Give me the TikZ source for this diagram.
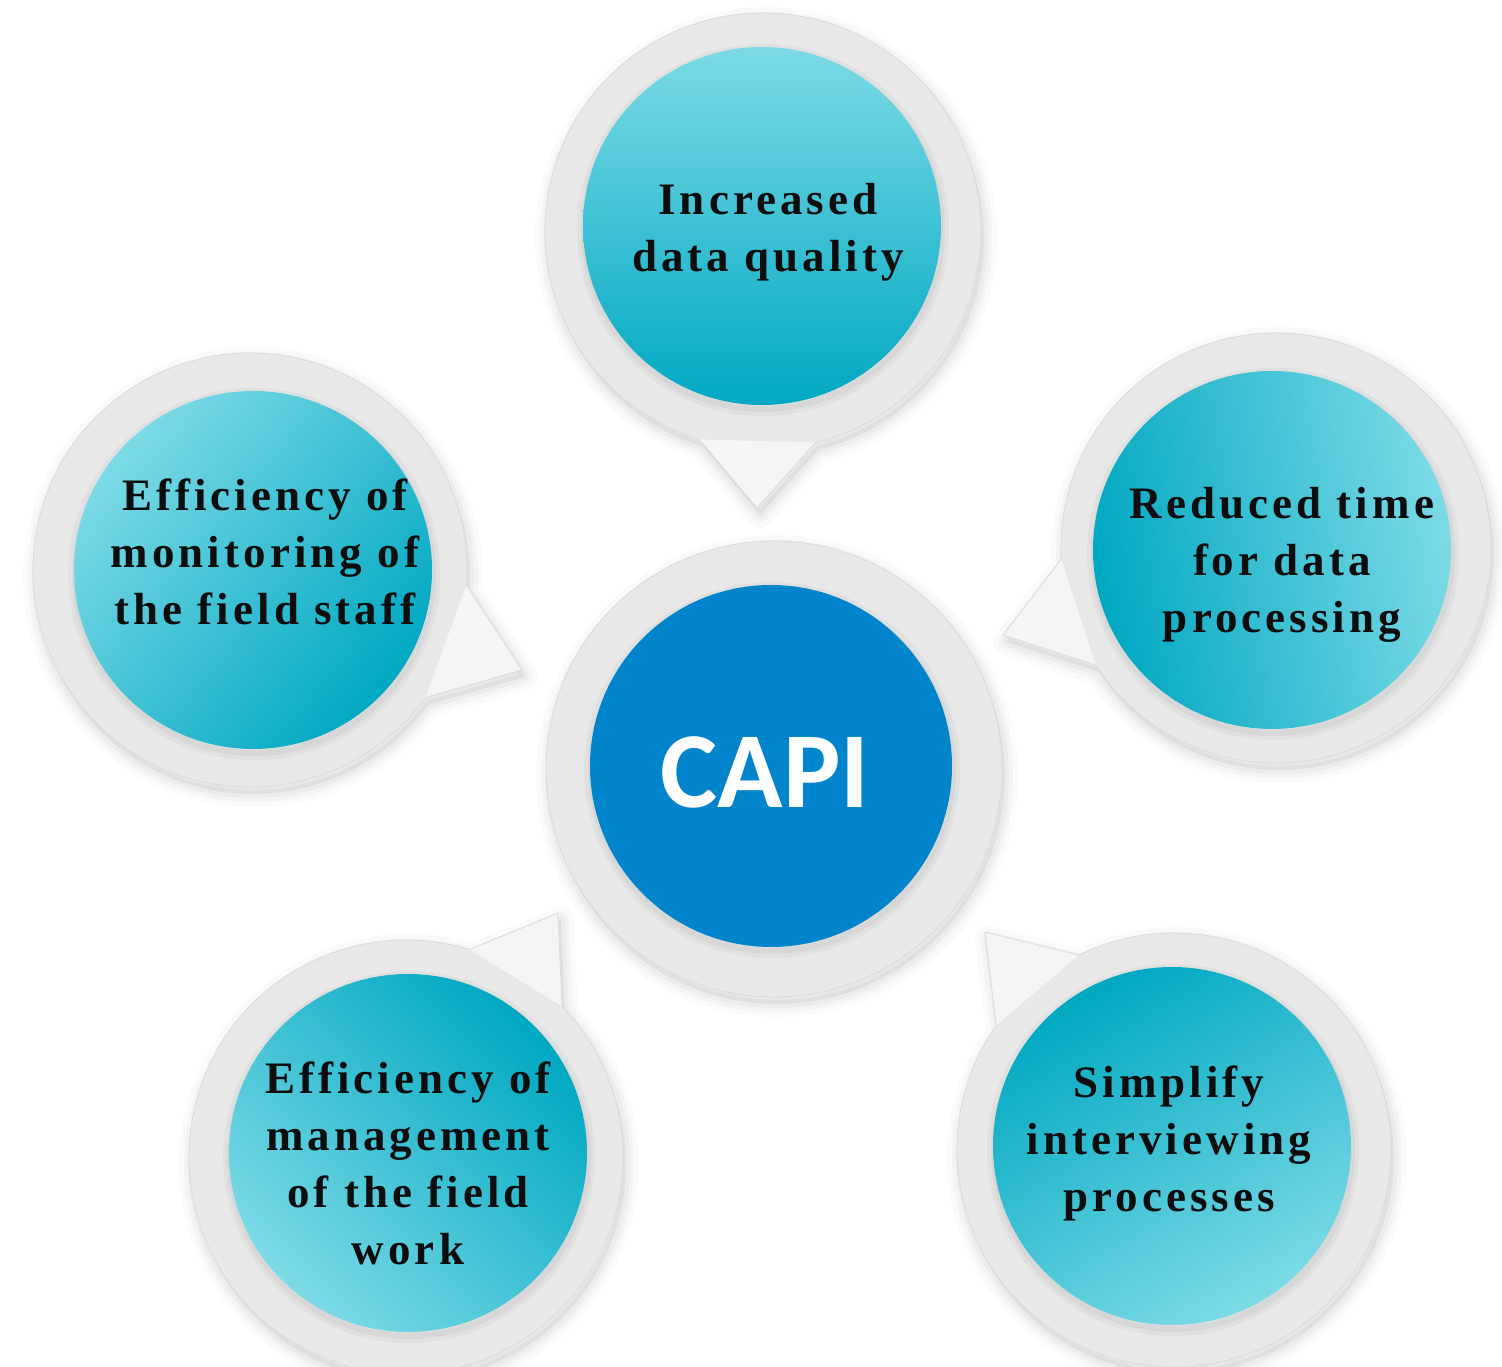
\documentclass[tikz,border=0pt]{standalone}
\usepackage{fontspec}
\setmainfont{Liberation Serif}
\newfontfamily\bubfont[LetterSpace=9]{Liberation Serif}
\newfontfamily\capifont{Carlito}
\definecolor{tealL}{RGB}{124,218,230}
\definecolor{tealD}{RGB}{0,168,194}
\definecolor{capiblue}{RGB}{0,133,204}
\definecolor{ringgrey}{RGB}{232,232,232}
\definecolor{ringedge}{RGB}{218,218,218}
\definecolor{ptrgrey}{RGB}{245,245,245}
\tikzset{
  softshadow/.style={
    preaction={draw=black, draw opacity=0.018, line width=26pt, line join=round, transform canvas={shift={(3pt,-7pt)}}},
    preaction={draw=black, draw opacity=0.022, line width=16pt, line join=round, transform canvas={shift={(3pt,-7pt)}}},
    preaction={draw=black, draw opacity=0.03, line width=8pt, line join=round, transform canvas={shift={(3pt,-7pt)}}},
    preaction={fill=black, fill opacity=0.05, transform canvas={shift={(3pt,-7pt)}}}},
  innershadow/.style={
    preaction={draw=black, draw opacity=0.03, line width=14pt, transform canvas={shift={(1pt,-4pt)}}},
    preaction={draw=black, draw opacity=0.04, line width=6pt, transform canvas={shift={(1pt,-4pt)}}}},
  ringnode/.style={circle, inner sep=0pt, outer sep=0pt},
  calloutfill/.style={softshadow, fill=ringgrey},
  disc/.style={circle, inner sep=0pt, outer sep=0pt, minimum size=358pt, innershadow,
    top color=tealL, bottom color=tealD},
  bubtext/.style={font=\bubfont\bfseries\fontsize{45}{57}\selectfont, align=center,
    text=black!95, anchor=base, inner sep=0pt},
  capitext/.style={font=\capifont\bfseries\fontsize{108}{120}\selectfont, text=white,
    anchor=base, inner sep=0pt},
}
\newcommand\calloutdraw[5]{%
  \path[calloutfill] (#1.#2) -- (#4) -- (#1.#3) arc[start angle=#3, end angle={#2+360}, radius=#5pt] -- cycle;
  \fill[ptrgrey] (#1.#2) -- (#4) -- (#1.#3) -- cycle;
  \draw[ringedge, line width=0.8pt, line join=round] (#1.#2) -- (#4) -- (#1.#3) arc[start angle=#3, end angle={#2+360}, radius=#5pt] -- cycle;}
\begin{document}
\begin{tikzpicture}[x=1pt, y=1pt]
\useasboundingbox[fill=white] (0,0) rectangle (1502,1367);
% central
\node[ringnode, minimum size=456pt, fill=ringgrey, draw=ringedge, line width=0.8pt, softshadow] (Rc) at (774,598) {};
\node[circle, inner sep=0pt, minimum size=362pt, fill=capiblue, innershadow] (capi) at (771,601) {};
\node[capitext] (capilabel) at (765,559) {CAPI};
% top
\node[ringnode, minimum size=436pt] (Rtop) at (763,1136) {};
\coordinate (Ttop) at (757,859);
\calloutdraw{Rtop}{-107}{-76}{Ttop}{218}
\node[disc, shading angle=0] (Btop) at (762,1141) {};
\node[bubtext] (Ltop) at (768,1095) {Increased\\data quality};
% left
\node[ringnode, minimum size=434pt] (Rleft) at (250,797) {};
\coordinate (Tleft) at (522,697);
\calloutdraw{Rleft}{-36}{-4}{Tleft}{217}
\node[disc, shading angle=50] (Bleft) at (253,797) {};
\node[bubtext] (Lleft) at (265,742) {Efficiency of\\monitoring of\\the field staff};
% right
\node[ringnode, minimum size=430pt] (Rright) at (1276,819) {};
\coordinate (Tright) at (1003,732);
\calloutdraw{Rright}{183}{213}{Tright}{215}
\node[disc, shading angle=-80] (Bright) at (1272,817) {};
\node[bubtext] (Lright) at (1282,734) {Reduced time\\for data\\processing};
% bottom left
\node[ringnode, minimum size=434pt] (Rbl) at (406,210) {};
\coordinate (Tbl) at (558,454);
\calloutdraw{Rbl}{44}{73}{Tbl}{217}
\node[disc, shading angle=135] (Bbl) at (408,214) {};
\node[bubtext] (Lbl) at (408,102) {Efficiency of\\management\\of the field\\work};
% bottom right
\node[ringnode, minimum size=434pt] (Rbr) at (1174,217) {};
\coordinate (Tbr) at (985,435);
\calloutdraw{Rbr}{116}{145}{Tbr}{217}
\node[disc, shading angle=210] (Bbr) at (1172,221) {};
\node[bubtext] (Lbr) at (1169,155) {Simplify\\interviewing\\processes};
\end{tikzpicture}
\end{document}
